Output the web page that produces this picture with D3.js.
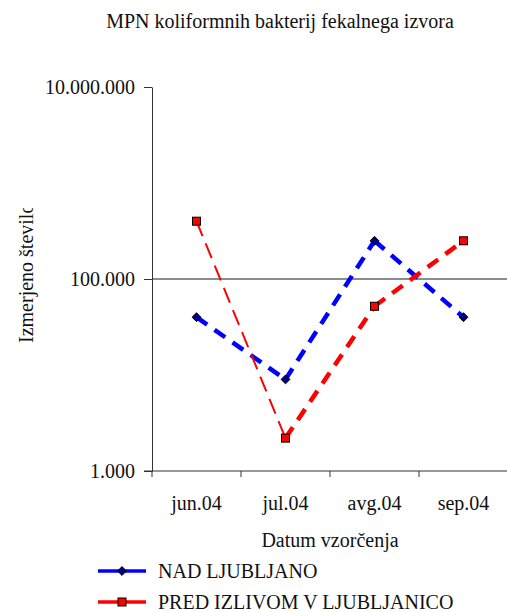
<!DOCTYPE html>
<html>
<head>
<meta charset="utf-8">
<script src="https://cdn.jsdelivr.net/npm/d3@7"></script>
<style>
    body { margin: 0; background: #fff; }
    svg text { font-family: "Liberation Serif", "Times New Roman", serif; font-size: 20px; fill: #111; }
</style>
</head>
<body>
<svg id="chart" width="507" height="612"></svg>
<script>
// categories and series
const months = ["jun.04", "jul.04", "avg.04", "sep.04"];
const nadLjubljano = [40000, 9000, 250000, 40000];
const predIzlivom = [400000, 2200, 52000, 250000];
const yTicks = [1000, 100000, 10000000];
const seriesNames = ["NAD LJUBLJANO", "PRED IZLIVOM V LJUBLJANICO"];

const svg = d3.select("#chart");
const plot = { left: 152, right: 508, top: 87, bottom: 471 };

const xScale = d3.scaleBand().domain(months).range([plot.left, plot.right]);
const yScale = d3.scaleLog().domain([1000, 10000000]).range([plot.bottom, plot.top]);
const fmt = d => d3.format(",")(d).replace(/,/g, ".");

// title
svg.append("text")
    .attr("x", 280).attr("y", 28)
    .attr("text-anchor", "middle")
    .text("MPN koliformnih bakterij fekalnega izvora");

// gridline at 100.000
svg.append("line")
    .attr("x1", plot.left).attr("x2", plot.right)
    .attr("y1", yScale(100000)).attr("y2", yScale(100000))
    .attr("stroke", "#666").attr("stroke-width", 1.3);

// y axis
const yAxis = svg.append("g")
    .attr("transform", "translate(" + plot.left + ",0)")
    .call(d3.axisLeft(yScale).tickValues(yTicks).tickFormat(fmt).tickSize(8).tickSizeOuter(0).tickPadding(9));
yAxis.attr("font-family", null).attr("font-size", null);
yAxis.select(".domain").attr("stroke", "#333");
yAxis.selectAll(".tick line").attr("stroke", "#333");
yAxis.selectAll("text").attr("fill", "#111");
// extend axis below the x axis like the original
svg.append("line")
    .attr("x1", plot.left).attr("x2", plot.left)
    .attr("y1", plot.bottom).attr("y2", plot.bottom + 6)
    .attr("stroke", "#333");

// x axis: line plus ticks between categories
svg.append("line")
    .attr("x1", plot.left - 8).attr("x2", plot.right)
    .attr("y1", plot.bottom).attr("y2", plot.bottom)
    .attr("stroke", "#333");
svg.selectAll(".xtick")
    .data(months.slice(1))
    .enter()
    .append("line")
    .attr("class", "xtick")
    .attr("x1", d => xScale(d)).attr("x2", d => xScale(d))
    .attr("y1", plot.bottom).attr("y2", plot.bottom + 6)
    .attr("stroke", "#333");
svg.selectAll(".xlabel")
    .data(months)
    .enter()
    .append("text")
    .attr("class", "xlabel")
    .attr("x", d => xScale(d) + xScale.bandwidth() / 2)
    .attr("y", 510)
    .attr("text-anchor", "middle")
    .text(d => d);

// axis titles
svg.append("text")
    .attr("x", 330).attr("y", 547)
    .attr("text-anchor", "middle")
    .text("Datum vzorčenja");

// y title is cut off at the top in the original
svg.append("clipPath").attr("id", "yclip")
    .append("rect").attr("x", 0).attr("y", 208).attr("width", 60).attr("height", 200);
svg.append("g")
    .attr("clip-path", "url(#yclip)")
    .append("text")
    .attr("transform", "translate(33,343) rotate(-90)")
    .text("Izmerjeno število");

// series
const cx = d => xScale(d) + xScale.bandwidth() / 2;
const blue = months.map((m, i) => ({ m: m, v: nadLjubljano[i] }));
const red = months.map((m, i) => ({ m: m, v: predIzlivom[i] }));

function drawSegments(pts, color, widthFor, dashFor) {
    for (let i = 0; i < pts.length - 1; i++) {
        svg.append("line")
            .attr("x1", cx(pts[i].m)).attr("y1", yScale(pts[i].v))
            .attr("x2", cx(pts[i + 1].m)).attr("y2", yScale(pts[i + 1].v))
            .attr("stroke", color)
            .attr("stroke-width", widthFor(i))
            .attr("stroke-dasharray", dashFor(i));
    }
}

drawSegments(blue, "#0000ff", () => 4.5, () => "13,9");
// first red segment is a thin dash in the original
drawSegments(red, "#ff0000", i => i === 0 ? 2 : 4.5, i => i === 0 ? "16,8" : "13,9");

svg.selectAll(".diamond")
    .data(blue)
    .enter()
    .append("path")
    .attr("class", "diamond")
    .attr("d", d3.symbol(d3.symbolDiamond2, 50))
    .attr("transform", d => "translate(" + cx(d.m) + "," + yScale(d.v) + ")")
    .attr("fill", "#000080")
    .attr("stroke", "#000")
    .attr("stroke-width", 1);

svg.selectAll(".square")
    .data(red)
    .enter()
    .append("rect")
    .attr("class", "square")
    .attr("x", d => cx(d.m) - 4)
    .attr("y", d => yScale(d.v) - 4)
    .attr("width", 8).attr("height", 8)
    .attr("fill", "#ff0000")
    .attr("stroke", "#000")
    .attr("stroke-width", 1);

// legend
const legend = svg.selectAll(".legend")
    .data(seriesNames)
    .enter()
    .append("g")
    .attr("class", "legend")
    .attr("transform", (d, i) => "translate(0," + (571 + i * 31) + ")");

legend.append("line")
    .attr("x1", 98).attr("x2", 146)
    .attr("stroke", (d, i) => i === 0 ? "#0000ff" : "#ff0000")
    .attr("stroke-width", 3.5);

legend.each(function (d, i) {
    const g = d3.select(this);
    if (i === 0) {
        g.append("path")
            .attr("d", d3.symbol(d3.symbolDiamond2, 50))
            .attr("transform", "translate(122,0)")
            .attr("fill", "#000080").attr("stroke", "#000");
    } else {
        g.append("rect")
            .attr("x", 118).attr("y", -4).attr("width", 8).attr("height", 8)
            .attr("fill", "#ff0000").attr("stroke", "#000");
    }
});

legend.append("text")
    .attr("x", 158).attr("y", 7)
    .text(d => d);
</script>
</body>
</html>
